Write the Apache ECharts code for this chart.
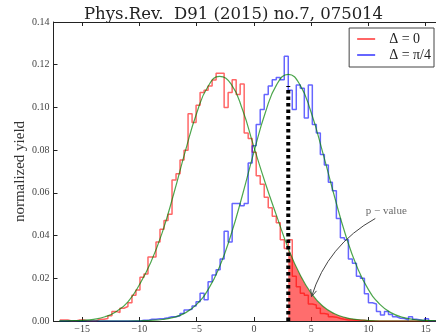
<!DOCTYPE html>
<html>
<head>
<meta charset="utf-8">
<script src="https://cdn.jsdelivr.net/npm/echarts@6/dist/echarts.min.js"></script>
<style>
  html, body { margin: 0; padding: 0; background: #fff; }
  #chart { width: 436px; height: 332px; }
</style>
</head>
<body>
<div id="chart"></div>
<script>
// histogram bins: left edge of first bin and bin width
const binStart = -16.95;
const binWidth = 0.35;

// normalized yield per bin, Delta = 0
const redHist = [
  0.0005, 0.0005, 0, 0, 0.0005, 0.0005, 0, 0, 0, 0.0008,
  0.0008, 0.0012, 0.0025, 0.0045, 0.004, 0.006, 0.0068, 0.0085, 0.012, 0.0145,
  0.0205, 0.022, 0.030, 0.030, 0.037, 0.043, 0.047, 0.050, 0.066, 0.069,
  0.0754, 0.080, 0.097, 0.093, 0.101, 0.107, 0.108, 0.110, 0.1128, 0.116,
  0.116, 0.100, 0.107, 0.113, 0.106, 0.111, 0.088, 0.0855, 0.079, 0.068,
  0.064, 0.058, 0.053, 0.049, 0.046, 0.038, 0.034, 0.038, 0.021, 0.016,
  0.013, 0.012, 0.008, 0.0075, 0.006, 0.0035, 0.0032, 0.002, 0.0018, 0.0012,
  0.0008, 0.0005, 0.0005, 0.0003, 0.0003, 0.0003, 0, 0, 0, 0,
  0, 0, 0, 0, 0, 0, 0, 0, 0, 0,
  0, 0, 0, 0
];

// normalized yield per bin, Delta = pi/4
const blueHist = [
  0, 0, 0, 0, 0, 0, 0, 0, 0, 0,
  0, 0, 0, 0, 0, 0, 0, 0, 0, 0,
  0.0003, 0.0003, 0.0008, 0.0008, 0.001, 0.0012, 0.0015, 0.002, 0.002, 0.0025,
  0.0035, 0.0052, 0.0055, 0.007, 0.009, 0.013, 0.010, 0.0184, 0.0215, 0.024,
  0.029, 0.042, 0.037, 0.055, 0.055, 0.054, 0.055, 0.074, 0.082, 0.092,
  0.099, 0.106, 0.110, 0.113, 0.114, 0.113, 0.124, 0.108, 0.099, 0.1105,
  0.109, 0.095, 0.1105, 0.092, 0.088, 0.078, 0.073, 0.065, 0.061, 0.048,
  0.039, 0.038, 0.029, 0.027, 0.021, 0.020, 0.0128, 0.0085, 0.008, 0.0044,
  0.0028, 0.0044, 0.003, 0.002, 0.0013, 0.0012, 0.0005, 0.002, 0.0008, 0.0005,
  0, 0.001, 0, 0
];

// fitted curves, read at integer x
const fitX = [-17, -16, -15, -14, -13, -12, -11, -10, -9, -8, -7, -6, -5, -4, -3, -2, -1,
  0, 1, 2, 3, 4, 5, 6, 7, 8, 9, 10, 11, 12, 13, 14, 15, 16];
const redFit = [0, 0.0001, 0.0003, 0.0008, 0.002, 0.0045, 0.009, 0.017, 0.0275, 0.0415,
  0.0596, 0.0793, 0.0973, 0.1099, 0.1145, 0.111, 0.099, 0.0815, 0.0645, 0.049,
  0.034, 0.022, 0.013, 0.007, 0.0035, 0.0016, 0.0007, 0.0002, 0, 0, 0, 0, 0, 0];
const blueFit = [0, 0, 0, 0, 0, 0, 0, 0.0001, 0.0003, 0.0007,
  0.0017, 0.0038, 0.0078, 0.0147, 0.0254, 0.0404, 0.0590, 0.0791, 0.0976, 0.1108,
  0.1155, 0.1108, 0.0976, 0.0791, 0.0590, 0.0404, 0.0254, 0.0147, 0.0078, 0.0038,
  0.0017, 0.0007, 0.0003, 0.0001];

const xTicks = [-15, -10, -5, 0, 5, 10, 15];
const cutX = 3;
const cutTop = 0.11;

// p-value annotation (data coords)
const arrowFrom = [10.6, 0.048];
const arrowTo = [5.03, 0.0114];
const pLabelAt = [11.56, 0.0513];

const serif = '"Liberation Serif", "DejaVu Serif", serif';

function histPoints(values) {
  const pts = values.map((v, i) => [binStart + i * binWidth, v]);
  pts.push([binStart + values.length * binWidth, values[values.length - 1]]);
  return pts;
}

const cutIdx = fitX.indexOf(cutX);
const fmtX = (v) => (v < 0 ? '\u2212' + (-v) : String(v));

// curved annotation arrow, like matplotlib arc3
function renderArrow(params, api) {
  const p1 = api.coord(arrowFrom);
  const p2 = api.coord(arrowTo);
  const c = -0.2;
  const cp = [(p1[0] + p2[0]) / 2 - (p1[1] - p2[1]) * c, (p1[1] + p2[1]) / 2 - (p2[0] - p1[0]) * c];
  const dx = p2[0] - cp[0], dy = p2[1] - cp[1];
  const len = Math.hypot(dx, dy);
  const ux = dx / len, uy = dy / len;
  const hl = 7, hw = 3;
  const a = [p2[0] - ux * hl - uy * hw, p2[1] - uy * hl + ux * hw];
  const b = [p2[0] - ux * hl + uy * hw, p2[1] - uy * hl - ux * hw];
  const style = { stroke: '#444', fill: null, lineWidth: 1 };
  return {
    type: 'group',
    children: [
      { type: 'bezierCurve', shape: { x1: p1[0], y1: p1[1], x2: p2[0], y2: p2[1], cpx1: cp[0], cpy1: cp[1] }, style },
      { type: 'polyline', shape: { points: [a, p2, b] }, style }
    ]
  };
}

const chart = echarts.init(document.getElementById('chart'));

const frameLine = { onZero: false, lineStyle: { color: '#222', width: 1 } };
const tickStyle = { color: '#222' };

chart.setOption({
  animation: false,
  title: {
    text: 'Phys.Rev.  D91 (2015) no.7, 075014',
    left: 79,
    top: 1,
    textStyle: { fontFamily: '"DejaVu Serif", serif', fontSize: 16.5, fontWeight: 'normal', color: '#222' }
  },
  legend: {
    data: ['Δ = 0', 'Δ = π/4'],
    orient: 'vertical',
    right: 2,
    top: 28,
    icon: 'rect',
    itemWidth: 18,
    itemHeight: 2,
    itemGap: 2,
    padding: [4, 3, 5, 8],
    borderColor: '#444',
    borderWidth: 1,
    backgroundColor: '#fff',
    textStyle: { fontFamily: serif, fontSize: 14, color: '#222', width: 59, padding: [0, 0, 0, 9] }
  },
  grid: { left: 53.5, right: 0, top: 22, bottom: 11, outerBoundsMode: 'none' },
  xAxis: [{
    type: 'value',
    min: -17.5,
    max: 15.9,
    axisLine: frameLine,
    splitLine: { show: false },
    axisTick: { inside: true, length: 4, customValues: xTicks, lineStyle: tickStyle },
    axisLabel: { customValues: xTicks, formatter: fmtX, margin: 3, fontFamily: serif, fontSize: 10, color: '#444' }
  }, {
    type: 'value',
    position: 'top',
    min: -17.5,
    max: 15.9,
    axisLine: frameLine,
    splitLine: { show: false },
    axisTick: { inside: true, length: 4, customValues: xTicks, lineStyle: tickStyle },
    axisLabel: { show: false }
  }],
  yAxis: {
    type: 'value',
    min: 0,
    max: 0.14,
    interval: 0.02,
    name: 'normalized yield',
    nameLocation: 'middle',
    nameRotate: 90,
    nameGap: 26,
    nameMoveOverlap: false,
    nameTextStyle: { fontFamily: serif, fontSize: 15, color: '#333' },
    axisLine: Object.assign({ show: true }, frameLine),
    splitLine: { show: false },
    axisTick: { show: true, inside: true, length: 4, lineStyle: tickStyle },
    axisLabel: { formatter: (v) => v.toFixed(2), margin: 4, fontFamily: serif, fontSize: 10, color: '#444' }
  },
  series: [
    {
      // p-value region: area under the Delta = 0 fit beyond the cut
      type: 'line',
      smooth: true,
      data: fitX.slice(cutIdx).map((x, i) => [x, redFit[cutIdx + i]]),
      symbol: 'none',
      silent: true,
      lineStyle: { width: 0 },
      areaStyle: { color: 'rgba(255,30,30,0.65)', opacity: 1 },
      z: 1
    },
    {
      name: 'Δ = 0',
      type: 'line',
      step: 'end',
      data: histPoints(redHist),
      symbol: 'none',
      itemStyle: { color: 'rgba(255,0,0,0.6)' },
      lineStyle: { color: 'rgba(255,0,0,0.6)', width: 1.5 },
      z: 2
    },
    {
      name: 'Δ = π/4',
      type: 'line',
      step: 'end',
      data: histPoints(blueHist),
      symbol: 'none',
      itemStyle: { color: 'rgba(0,0,255,0.6)' },
      lineStyle: { color: 'rgba(0,0,255,0.6)', width: 1.5 },
      z: 2
    },
    {
      type: 'line',
      smooth: true,
      data: fitX.map((x, i) => [x, redFit[i]]),
      symbol: 'none',
      lineStyle: { color: 'rgba(0,128,0,0.7)', width: 1.2 },
      z: 3
    },
    {
      type: 'line',
      smooth: true,
      data: fitX.map((x, i) => [x, blueFit[i]]),
      symbol: 'none',
      lineStyle: { color: 'rgba(0,128,0,0.7)', width: 1.2 },
      z: 3
    },
    {
      type: 'line',
      data: [[cutX, 0], [cutX, cutTop]],
      symbol: 'none',
      lineStyle: { color: '#000', width: 4, type: [3.5, 3], cap: 'butt' },
      z: 4
    },
    {
      type: 'custom',
      data: [[arrowFrom[0], arrowFrom[1]]],
      renderItem: renderArrow,
      silent: true,
      clip: false,
      z: 5
    },
    {
      type: 'scatter',
      data: [pLabelAt],
      symbolSize: 0,
      label: {
        show: true,
        position: 'inside',
        formatter: 'p \u2212 value',
        fontFamily: serif,
        fontSize: 11,
        color: '#444'
      },
      z: 5
    }
  ]
});
</script>
</body>
</html>
